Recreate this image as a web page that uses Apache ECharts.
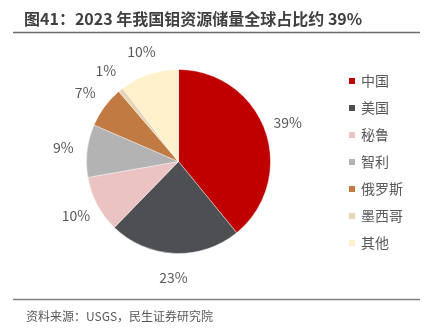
<!DOCTYPE html>
<html><head><meta charset="utf-8">
<script src="https://cdn.jsdelivr.net/npm/echarts@6/dist/echarts.min.js"></script>
<style>html,body{margin:0;padding:0;background:#fff}#c{width:426px;height:334px}</style>
</head><body><div id="c"></div>
<script>
const categories = ['中国', '美国', '秘鲁', '智利', '俄罗斯', '墨西哥', '其他'];
const shares = [39.3, 23.3, 10.0, 9.3, 7.3, 0.9, 10.4];
const colors = ['#C00000', '#4D4F52', '#EBC3C3', '#B3B3B3', '#C07A42', '#E8D5B6', '#FFF1CC'];
const titleText = '图41：2023 年我国钼资源储量全球占比约 39%';
const sourceText = '资料来源：USGS，民生证券研究院';

const FONT = '"Noto Sans CJK SC", "Noto Sans", sans-serif';
const chart = echarts.init(document.getElementById('c'));
const pieData = categories.map((n, i) => ({ name: n, value: shares[i], itemStyle: { color: colors[i] } }));
const labelData = categories.map((n, i) => ({ name: n, value: shares[i] }));

chart.setOption({
  animation: false,
  textStyle: { fontFamily: FONT },
  title: [
    { text: titleText, left: 19, top: 6, textStyle: { fontSize: 16, fontWeight: 'bold', color: '#404040', fontFamily: FONT } },
    { text: sourceText, left: 21, top: 305, textStyle: { fontSize: 12, fontWeight: 'normal', color: '#595959', fontFamily: FONT } }
  ],
  legend: {
    orient: 'vertical', left: 342, top: 69,
    itemWidth: 8, itemHeight: 8, itemGap: 13, icon: 'rect',
    textStyle: { fontSize: 14, color: '#595959', lineHeight: 14, fontFamily: FONT },
    data: categories
  },
  graphic: [
    { type: 'line', shape: { x1: 13, y1: 32.5, x2: 420, y2: 32.5 }, style: { stroke: '#6b6b6b', lineWidth: 1.5 } },
    { type: 'line', shape: { x1: 13, y1: 299.5, x2: 420, y2: 299.5 }, style: { stroke: '#7f7f7f', lineWidth: 1.5 } }
  ],
  series: [
    {
      type: 'pie', name: 'main', center: [178.5, 161.5], radius: [0, 92],
      startAngle: 90, clockwise: true,
      itemStyle: { borderColor: '#ffffff', borderWidth: 0.4 },
      label: { show: false }, labelLine: { show: false },
      emphasis: { disabled: true },
      data: pieData
    },
    {
      type: 'pie', name: 'labels', center: [178.5, 161.5], radius: [97, 129],
      startAngle: 90, clockwise: true, silent: true,
      itemStyle: { color: 'rgba(0,0,0,0)' },
      label: {
        show: true, position: 'inside', fontSize: 14, color: '#595959', fontFamily: FONT,
        formatter: p => Math.round(p.value) + '%'
      },
      labelLine: { show: false },
      emphasis: { disabled: true },
      data: labelData
    }
  ]
});
</script></body></html>
